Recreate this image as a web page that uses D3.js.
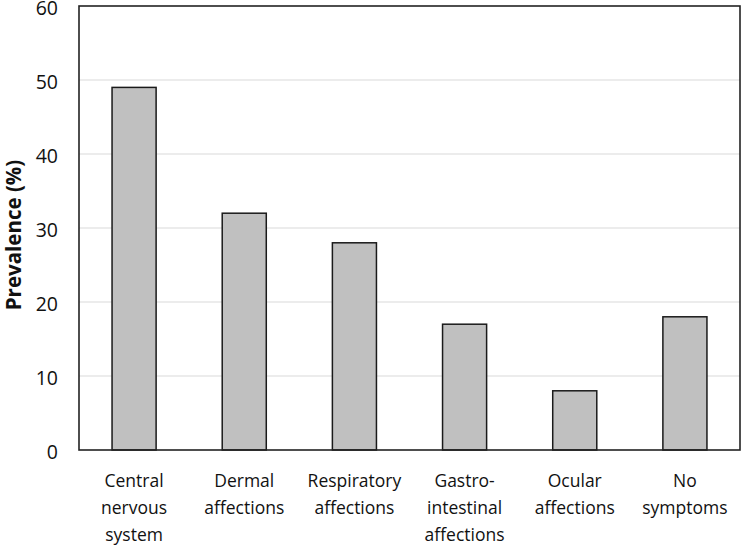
<!DOCTYPE html>
<html>
<head>
<meta charset="utf-8">
<script src="https://cdn.jsdelivr.net/npm/d3@7"></script>
<style>
  body { margin: 0; background: #fff; }
  text { font-family: "Open Sans", "Noto Sans", sans-serif; fill: #111; }
</style>
</head>
<body>
<div id="graphic"></div>
<script>
// data
const categories = [
  ["Central", "nervous", "system"],
  ["Dermal", "affections"],
  ["Respiratory", "affections"],
  ["Gastro-", "intestinal", "affections"],
  ["Ocular", "affections"],
  ["No", "symptoms"]
];
const prevalence = [49, 32, 28, 17, 8, 18];
const yTicks = [0, 10, 20, 30, 40, 50, 60];

const W = 741, H = 545,
  margin = { top: 6, bottom: 95, left: 79, right: 1 },
  width = W - margin.left - margin.right,
  height = H - margin.top - margin.bottom;

const data = prevalence.map((v, i) => ({ key: i, lines: categories[i], value: v }));

const svg = d3.select("#graphic").append("svg")
  .attr("width", W)
  .attr("height", H);

const g = svg.append("g")
  .attr("transform", `translate(${margin.left},${margin.top})`);

const x = d3.scaleBand()
  .domain(data.map(d => d.key))
  .range([0, width])
  .paddingInner(0.6)
  .paddingOuter(0.3);

const y = d3.scaleLinear()
  .domain([0, 60])
  .range([height, 0]);

// gridlines
g.selectAll(".grid")
  .data(yTicks.filter(t => t > 0 && t < 60))
  .enter().append("line")
  .attr("x1", 0).attr("x2", width)
  .attr("y1", d => y(d)).attr("y2", d => y(d))
  .attr("stroke", "#d9d9d9")
  .attr("stroke-width", 1);

// bars
g.selectAll(".bar")
  .data(data)
  .enter().append("rect")
  .attr("class", "bar")
  .attr("x", d => x(d.key))
  .attr("width", x.bandwidth())
  .attr("y", d => y(d.value))
  .attr("height", d => y(0) - y(d.value))
  .attr("fill", "#c0c0c0")
  .attr("stroke", "#1a1a1a")
  .attr("stroke-width", 1.5);

// frame
g.append("rect")
  .attr("x", 0).attr("y", 0)
  .attr("width", width).attr("height", height)
  .attr("fill", "none")
  .attr("stroke", "#222")
  .attr("stroke-width", 1.6);

// y axis labels
const yAxis = d3.axisLeft(y).tickValues(yTicks).tickSize(0).tickPadding(21);
const gy = g.append("g").call(yAxis);
gy.select(".domain").remove();
gy.selectAll("text")
  .attr("font-size", 19.5)
  .attr("dy", "0.45em")
  .attr("font-family", "'Open Sans', 'Noto Sans', sans-serif")
  .attr("fill", "#111");

// x category labels
const gx = g.append("g").attr("transform", `translate(0,${height})`);
gx.selectAll(".cat")
  .data(data)
  .enter().append("text")
  .attr("class", "cat")
  .attr("text-anchor", "middle")
  .attr("font-size", 17.5)
  .attr("x", d => x(d.key) + x.bandwidth() / 2)
  .attr("y", 37)
  .each(function(d) {
    d3.select(this).selectAll("tspan")
      .data(d.lines)
      .enter().append("tspan")
      .attr("x", x(d.key) + x.bandwidth() / 2)
      .attr("dy", (t, i) => i === 0 ? 0 : 27)
      .text(t => t);
  });

// y title
svg.append("text")
  .attr("transform", `translate(21,${margin.top + height / 2 + 7}) rotate(-90)`)
  .attr("text-anchor", "middle")
  .attr("font-size", 20.5)
  .attr("font-weight", "bold")
  .text("Prevalence (%)");
</script>
</body>
</html>
